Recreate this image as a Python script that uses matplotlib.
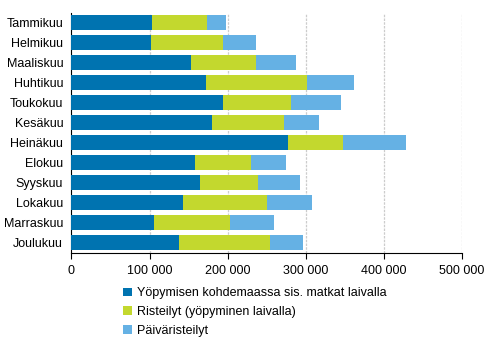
import matplotlib
matplotlib.use("Agg")
import matplotlib.pyplot as plt
from matplotlib.patches import Patch
from matplotlib.ticker import FuncFormatter

# ---- data ----
months = ["Tammikuu", "Helmikuu", "Maaliskuu", "Huhtikuu", "Toukokuu", "Kesäkuu",
          "Heinäkuu", "Elokuu", "Syyskuu", "Lokakuu", "Marraskuu", "Joulukuu"]
matkat = [103000, 101800, 153000, 172000, 194000, 180000,
          277000, 158000, 164500, 142800, 105600, 137600]
risteilyt = [70500, 92200, 83000, 129500, 87000, 92000,
             70600, 71800, 74300, 107500, 97300, 116600]
paivaristeilyt = [24300, 42000, 51500, 60200, 64000, 45000,
                  80700, 44800, 53800, 57600, 56400, 42200]
labels = ["Yöpymisen kohdemaassa sis. matkat laivalla",
          "Risteilyt (yöpyminen laivalla)",
          "Päiväristeilyt"]
colors = ["#0073B0", "#C3D82E", "#65B1E4"]

plt.rcParams['font.family'] = ['Liberation Sans', 'DejaVu Sans']
plt.rcParams['font.size'] = 9

fig = plt.figure(figsize=(4.92, 3.40), dpi=100)
ax = fig.add_axes([0.1453, 0.256, 0.7937, 0.706])

y = list(range(len(months)))
left2 = [a + b for a, b in zip(matkat, risteilyt)]
ax.barh(y, matkat, height=0.75, color=colors[0], zorder=3)
ax.barh(y, risteilyt, left=matkat, height=0.75, color=colors[1], zorder=3)
ax.barh(y, paivaristeilyt, left=left2, height=0.75, color=colors[2], zorder=3)

ax.set_ylim(len(months) - 0.5, -0.5)
ax.set_yticks(y)
ax.set_yticklabels(months)
ax.set_xlim(0, 500000)
ax.set_xticks([0, 100000, 200000, 300000, 400000, 500000])
ax.xaxis.set_major_formatter(FuncFormatter(lambda v, p: f"{int(v):,}".replace(",", " ")))

ax.grid(axis="x", color="#cccccc", linestyle=(0, (2, 1)), linewidth=0.9, zorder=0)
for s in ["top", "right"]:
    ax.spines[s].set_visible(False)
ax.spines["left"].set_color("black")
ax.spines["bottom"].set_color("black")
ax.tick_params(axis="y", length=0, pad=6)
ax.tick_params(axis="x", length=4, direction="out", pad=5)

handles = [Patch(facecolor=c, edgecolor="none") for c in colors]
fig.legend(handles, labels, loc="upper left", bbox_to_anchor=(0.250, 0.155),
           frameon=False, handlelength=0.7, handleheight=0.7, handletextpad=0.45,
           labelspacing=0.55, borderaxespad=0, borderpad=0)

fig.savefig("out.png", dpi=100)
